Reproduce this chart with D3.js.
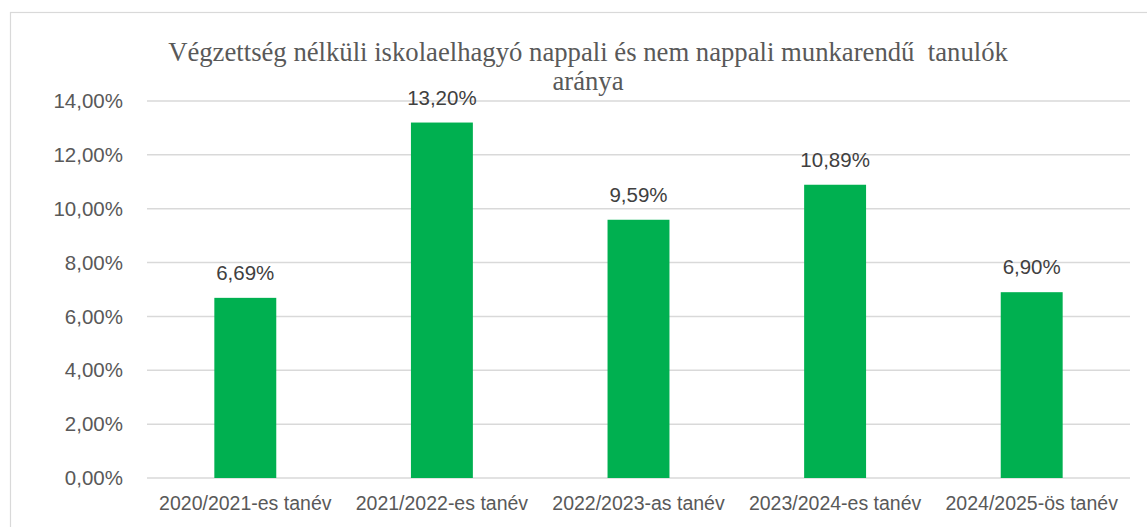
<!DOCTYPE html>
<html>
<head>
<meta charset="utf-8">
<script src="https://cdn.jsdelivr.net/npm/d3@7"></script>
<style>
  body { margin: 0; background: #fff; }
</style>
</head>
<body>
<div id="chart"></div>
<script>
const categories = [
  "2020/2021-es tanév",
  "2021/2022-es tanév",
  "2022/2023-as tanév",
  "2023/2024-es tanév",
  "2024/2025-ös tanév"
];
const values = [6.69, 13.2, 9.59, 10.89, 6.9];
const yTicks = [0, 2, 4, 6, 8, 10, 12, 14];
const titleLines = [
  "Végzettség nélküli iskolaelhagyó nappali és nem nappali munkarendű  tanulók",
  "aránya"
];

const size = { width: 1147, height: 527 };
const margin = { left: 147, right: 17, top: 101, bottom: 49 };

const fmt = (v) => v.toFixed(2).replace(".", ",") + "%";

const svg = d3.select("#chart")
  .append("svg")
  .attr("width", size.width)
  .attr("height", size.height);

// chart frame (runs past the right and bottom edge of the picture)
svg.append("rect")
  .attr("x", 10.5)
  .attr("y", 12.5)
  .attr("width", 1156)
  .attr("height", 540)
  .attr("fill", "none")
  .attr("stroke", "#d9d9d9")
  .attr("stroke-width", 1.2);

const x = d3.scaleBand()
  .domain(categories)
  .range([margin.left, size.width - margin.right]);

const y = d3.scaleLinear()
  .domain([0, 14])
  .range([size.height - margin.bottom, margin.top]);

// gridlines
svg.append("g")
  .selectAll("line")
  .data(yTicks)
  .join("line")
  .attr("x1", margin.left)
  .attr("x2", size.width - margin.right)
  .attr("y1", (d) => y(d))
  .attr("y2", (d) => y(d))
  .attr("stroke", "#d9d9d9")
  .attr("stroke-width", 1.5);

// y tick labels
svg.append("g")
  .selectAll("text")
  .data(yTicks)
  .join("text")
  .attr("x", 123)
  .attr("y", (d) => y(d))
  .attr("dy", "0.35em")
  .attr("text-anchor", "end")
  .attr("font-family", "Liberation Sans, Arial, sans-serif")
  .attr("font-size", 20.5)
  .attr("fill", "#595959")
  .text((d) => fmt(d));

// bars
const barW = x.bandwidth() * 0.315;
svg.append("g")
  .selectAll("rect")
  .data(values)
  .join("rect")
  .attr("x", (d, i) => x(categories[i]) + x.bandwidth() / 2 - barW / 2)
  .attr("y", (d) => y(d))
  .attr("width", barW)
  .attr("height", (d) => y(0) - y(d))
  .attr("fill", "#00b050");

// data labels
svg.append("g")
  .selectAll("text")
  .data(values)
  .join("text")
  .attr("x", (d, i) => x(categories[i]) + x.bandwidth() / 2)
  .attr("y", (d) => y(d) - 18)
  .attr("text-anchor", "middle")
  .attr("font-family", "Liberation Sans, Arial, sans-serif")
  .attr("font-size", 20.5)
  .attr("fill", "#404040")
  .text((d) => fmt(d));

// category labels
svg.append("g")
  .selectAll("text")
  .data(categories)
  .join("text")
  .attr("x", (d) => x(d) + x.bandwidth() / 2)
  .attr("y", 510)
  .attr("text-anchor", "middle")
  .attr("font-family", "Liberation Sans, Arial, sans-serif")
  .attr("font-size", 19.5)
  .attr("fill", "#595959")
  .text((d) => d);

// title
svg.append("text")
  .attr("x", 588)
  .attr("y", 61)
  .attr("text-anchor", "middle")
  .attr("font-family", "Liberation Serif, Times New Roman, serif")
  .attr("font-size", 26.7)
  .attr("fill", "#595959")
  .attr("xml:space", "preserve")
  .style("white-space", "pre")
  .selectAll("tspan")
  .data(titleLines)
  .join("tspan")
  .attr("x", 588)
  .attr("dy", (d, i) => (i === 0 ? 0 : 29))
  .text((d) => d);
</script>
</body>
</html>
